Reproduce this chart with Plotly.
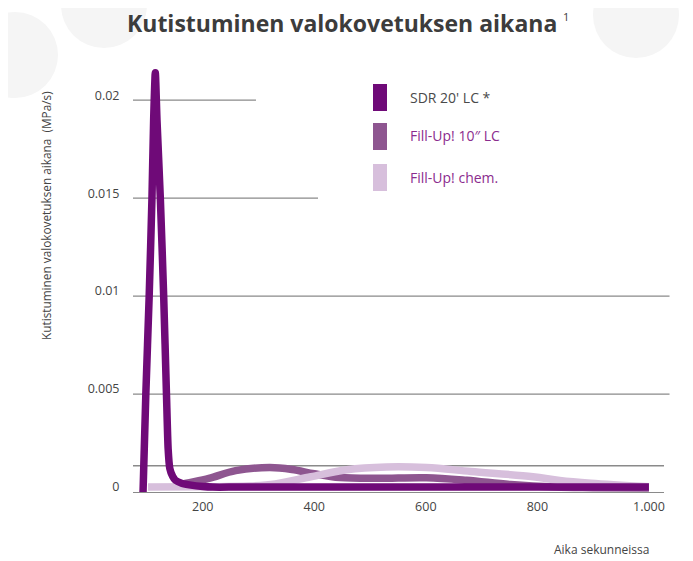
import plotly.graph_objects as go

# ---- data ----
sdr_x = [93, 98, 104, 109, 112, 115, 118, 124, 130, 135, 138, 141, 146, 151, 162, 179, 200, 218, 260, 400, 600, 800, 1000]
sdr_y = [0.0, 0.005, 0.010, 0.015, 0.019, 0.0214, 0.019, 0.015, 0.010, 0.005, 0.0022, 0.0012, 0.0008, 0.0006, 0.00045, 0.00035, 0.00028, 0.00025, 0.00025, 0.00025, 0.00025, 0.00025, 0.00025]

fill10_x = [151, 171, 211, 259, 320, 360, 400, 446, 513, 601, 673, 752, 832, 900, 1000]
fill10_y = [0.00032, 0.00045, 0.00069, 0.00109, 0.00125, 0.00115, 0.00093, 0.00074, 0.0007, 0.00073, 0.0006, 0.00038, 0.00025, 0.00022, 0.0002]

chem_x = [102, 200, 283, 330, 394, 458, 529, 601, 681, 792, 840, 896, 1000]
chem_y = [0.00025, 0.00027, 0.0003, 0.00041, 0.00078, 0.00114, 0.00128, 0.00125, 0.00105, 0.00078, 0.00059, 0.00045, 0.00027]

series_names = ["SDR 20' LC *", "Fill-Up! 10\u2033 LC", "Fill-Up! chem."]
series_colors = ["#6f0a78", "#8e5690", "#d7bfdc"]
label_colors = ["#4a4a4a", "#8b2c8e", "#8b2c8e"]

y_tickvals = [0, 0.005, 0.01, 0.015, 0.02]
y_ticktext = ["0", "0.005", "0.01", "0.015", "0.02"]
x_tickvals = [200, 400, 600, 800, 1000]
x_ticktext = ["200", "400", "600", "800", "1.000"]

# gridline extents (paper x end) per tick value, plus the extra line
grid_vals = [0.005, 0.01, 0.015, 0.02, 0.00134]
grid_ends = [1.0104, 1.0104, 0.3484, 0.2316, 1.0]

# page has an 8px body margin: shrink figure and shift everything by it
OFF = 8
W, H = 693 - OFF, 561 - OFF
L, R, T, B = 133 - OFF, 29, 61 - OFF, 69
PW, PH = W - L - R, H - T - B


def px(x):
    return (x - OFF - L) / PW


def py(y):
    return (H - B - (y - OFF)) / PH


FONT = "Open Sans"

fig = go.Figure()
fig.add_trace(go.Scatter(x=fill10_x, y=fill10_y, mode="lines", name=series_names[1],
                         line=dict(color=series_colors[1], width=7.5, shape="spline", smoothing=1)))
fig.add_trace(go.Scatter(x=chem_x, y=chem_y, mode="lines", name=series_names[2],
                         line=dict(color=series_colors[2], width=7.5, shape="spline", smoothing=1)))
fig.add_trace(go.Scatter(x=sdr_x, y=sdr_y, mode="lines", name=series_names[0],
                         line=dict(color=series_colors[0], width=7.5, shape="spline", smoothing=0.6)))

shapes = []
# faint decorative circles
for cx, cy, r in [(15, 55, 43), (104, 5, 43), (200, -35, 40), (378, -35, 42), (548, -30, 38), (636, 15, 43)]:
    shapes.append(dict(type="circle", xref="paper", yref="paper", layer="below",
                       x0=px(cx - r), x1=px(cx + r), y0=py(cy + r), y1=py(cy - r),
                       fillcolor="#f5f5f5", line=dict(width=0)))
# gridlines
for v, e in zip(grid_vals, grid_ends):
    shapes.append(dict(type="line", xref="paper", yref="y", x0=0, x1=e, y0=v, y1=v,
                       line=dict(color="#8a8a8a", width=1.3), layer="below"))

annotations = []
# legend swatches and labels
legend_tops = [84, 123, 164]
for name, col, lcol, top in zip(series_names, series_colors, label_colors, legend_tops):
    shapes.append(dict(type="rect", xref="paper", yref="paper",
                       x0=px(373), x1=px(387), y0=py(top + 27), y1=py(top),
                       fillcolor=col, line=dict(width=0)))
    annotations.append(dict(x=px(408), y=py(top + 13), xref="paper", yref="paper",
                            text=name, showarrow=False, xanchor="left", yanchor="middle",
                            font=dict(family=FONT, size=14, color=lcol)))

annotations.append(dict(x=px(342), y=py(23), xref="paper", yref="paper",
                        text="<b>Kutistuminen valokovetuksen aikana</b>",
                        showarrow=False, xanchor="center", yanchor="middle",
                        font=dict(family=FONT, size=23, color="#3c3c3c")))
annotations.append(dict(x=px(566), y=py(16), xref="paper", yref="paper",
                        text="1", showarrow=False, xanchor="center", yanchor="middle",
                        font=dict(family=FONT, size=11, color="#3c3c3c")))
annotations.append(dict(x=px(46), y=py(216), xref="paper", yref="paper",
                        text="Kutistuminen valokovetuksen aikana  (MPa/s)", textangle=-90,
                        showarrow=False, xanchor="center", yanchor="middle",
                        font=dict(family=FONT, size=11.8, color="#444444")))
annotations.append(dict(x=px(601), y=py(549), xref="paper", yref="paper",
                        text="Aika sekunneissa", showarrow=False,
                        xanchor="center", yanchor="middle",
                        font=dict(family=FONT, size=12, color="#444444")))

fig.update_layout(
    width=W, height=H,
    margin=dict(l=L, r=R, t=T, b=B),
    paper_bgcolor="white", plot_bgcolor="rgba(0,0,0,0)",
    showlegend=False,
    shapes=shapes, annotations=annotations,
    xaxis=dict(range=[75, 1027], tickvals=x_tickvals, ticktext=x_ticktext,
               showgrid=False, zeroline=False, showline=True, linecolor="#8a8a8a", linewidth=1.3,
               ticks="outside", ticklen=3, tickcolor="rgba(0,0,0,0)",
               tickfont=dict(family=FONT, size=12.5, color="#444444")),
    yaxis=dict(range=[0, 0.022], tickvals=y_tickvals, ticktext=y_ticktext,
               showgrid=False, zeroline=False, showline=False,
               ticks="outside", ticklen=10, tickcolor="rgba(0,0,0,0)", ticklabelshift=-5,
               tickfont=dict(family=FONT, size=12.5, color="#444444")),
)

fig.write_html("out.html")
